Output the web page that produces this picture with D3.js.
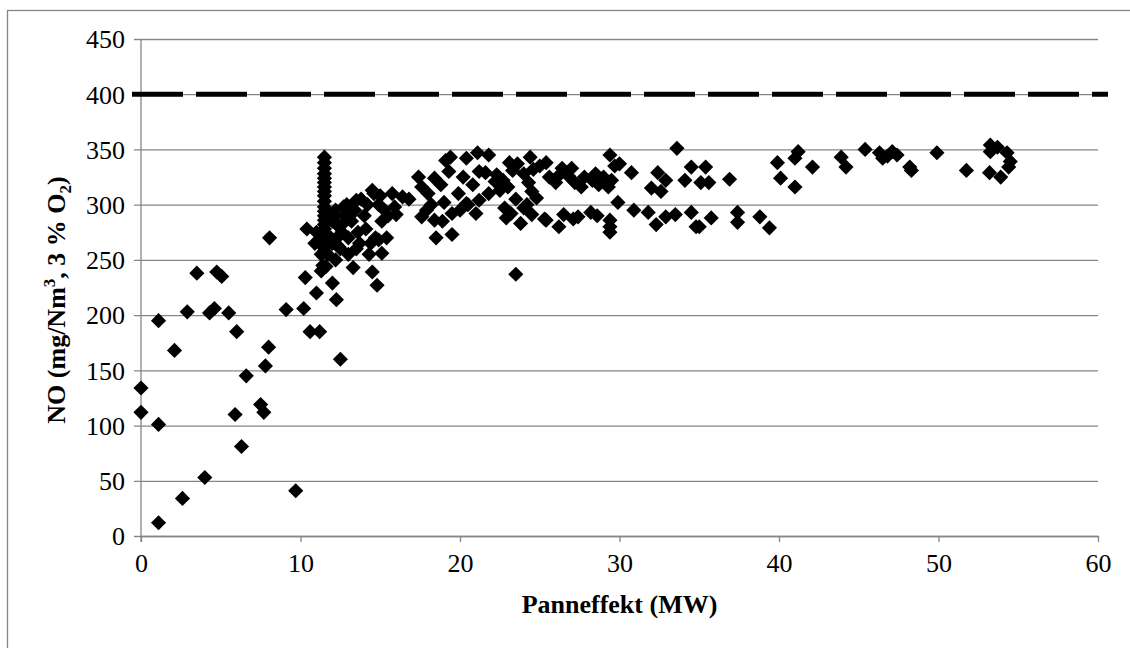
<!DOCTYPE html>
<html>
<head>
<meta charset="utf-8">
<script src="https://cdn.jsdelivr.net/npm/d3@7"></script>
<style>
  body { margin: 0; background: #fff; }
</style>
</head>
<body>
<div class="canvas"></div>
<script>
// Panneffekt (MW) vs NO (mg/Nm3, 3 % O2)

const panneffekt = [
    0, 0, 1.1, 1.1, 1.1, 2.1, 2.6, 2.9, 3.5, 4.0, 4.3, 4.6, 4.75, 5.06, 5.5, 5.9, 6.0, 6.3, 6.6, 7.5,
    7.7, 7.8, 8.0, 8.06, 9.1, 9.7, 10.2, 10.3, 10.4, 10.6, 11.2, 11.0, 11.4, 12.0, 12.25, 12.5, 13.3, 14.5, 14.8, 15.1, 15.4,
    11.5, 11.5, 11.5, 11.5, 11.5, 11.5, 11.5, 11.5, 11.5, 11.5, 11.5, 11.5, 11.5, 11.5, 11.5, 11.5, 11.5, 11.5, 11.5, 11.5, 11.5,
    11.8, 12.0, 12.2, 12.4, 12.6, 12.8, 13.0, 12.5, 12.0, 11.7, 11.2, 11.0, 11.3, 12.9, 13.2, 13.4, 13.6, 13.8, 14.0, 14.2,
    14.4, 14.7, 14.3, 13.5, 13.0, 12.2, 11.6, 12.6, 12.3, 14.6, 14.9, 15.2, 15.5, 15.9, 15.1, 14.1, 13.7, 13.1, 12.7, 12.2,
    13.5, 14.5, 15.0, 15.75, 16.0, 16.4, 16.8, 14.9, 11.9, 12.4, 11.3, 10.9,
    17.4, 17.6, 18.0, 18.4, 18.8, 19.1, 19.3, 19.4, 18.2, 17.6, 18.4, 18.5, 19.0, 19.5, 19.5, 19.9, 17.9, 18.9, 20.4, 20.4, 21.0, 21.2,
    21.1, 21.8, 21.6, 22.2, 22.3, 22.7, 23.0, 23.1, 23.3, 23.6, 24.0, 24.3, 24.4, 24.5, 24.8, 24.6, 22.5, 23.5, 24.2, 21.2,
    20.2, 20.8, 21.8, 22.8, 22.9, 23.2, 23.8, 24.0, 20.5, 20.0, 25.0, 24.5, 25.3, 23.5,
    25.4, 25.4, 26.2, 26.4, 25.6, 26.0, 26.3, 26.8, 27.2, 27.6, 27.8, 28.3, 28.7, 29.0, 29.5, 29.4, 29.7, 29.3, 27.0, 28.5,
    30.0, 27.4, 28.2, 28.6, 26.5, 27.1, 29.4, 29.4, 29.4, 29.9,
    30.75, 30.9, 33.6, 32.4, 32.9, 34.5, 35.4, 34.1, 35.1, 32.0, 32.6, 31.8, 32.3, 32.9, 33.5, 34.5, 34.8, 35.75, 35.6, 36.9, 35.0,
    37.4, 37.4, 38.8, 39.4, 39.9, 41.2, 41.0, 42.1, 40.1, 41.0, 43.9, 44.2, 45.4, 46.3, 46.5, 47.1, 47.4, 48.2, 49.9, 51.75,
    53.25, 53.25, 53.7, 53.2, 53.9, 54.3, 54.5, 54.4, 48.3, 46.8
];

const noVerdi = [
    134, 112, 101, 195, 12, 168, 34, 203, 238, 53, 202, 206, 239, 235, 202, 110, 185, 81, 145, 119,
    112, 154, 171, 270, 205, 41, 206, 234, 278, 185, 185, 220, 245, 229, 214, 160, 243, 239, 227, 256, 270,
    343, 338, 333, 328, 324, 320, 316, 312, 308, 303, 298, 294, 290, 286, 282, 278, 274, 270, 266, 262, 258,
    290, 285, 295, 280, 275, 290, 270, 260, 265, 255, 265, 275, 255, 300, 285, 295, 275, 305, 290, 300,
    265, 270, 255, 260, 255, 250, 244, 282, 270, 310, 300, 296, 290, 298, 285, 278, 265, 290, 298, 290,
    304, 313, 308, 310, 291, 307, 305, 268, 270, 262, 240, 265,
    325, 316, 310, 324, 318, 340, 330, 343, 300, 289, 286, 270, 302, 292, 273, 310, 295, 285, 342, 301, 292, 304,
    347, 345, 329, 321, 327, 322, 316, 338, 331, 337, 328, 320, 343, 312, 306, 332, 313, 305, 300, 330,
    325, 318, 310, 297, 288, 292, 283, 297, 300, 295, 335, 291, 287, 237,
    338, 286, 280, 333, 325, 320, 328, 326, 320, 316, 325, 322, 318, 325, 322, 345, 335, 316, 333, 328,
    337, 289, 293, 290, 291, 287, 275, 280, 286, 302,
    329, 295, 351, 329, 322, 334, 334, 322, 320, 315, 312, 293, 282, 289, 291, 293, 280, 288, 320, 323, 280,
    293, 284, 289, 279, 338, 348, 342, 334, 324, 316, 343, 334, 350, 347, 342, 348, 345, 334, 347, 331,
    354, 348, 352, 329, 325, 347, 339, 334, 331, 344
];

const xTicks = [0, 10, 20, 30, 40, 50, 60];
const yTicks = [0, 50, 100, 150, 200, 250, 300, 350, 400, 450];
const grenseverdi = 400;

const data = panneffekt.map((d, i) => ({ x: d, y: noVerdi[i] }));

// try every serif that might be around
const fontSerif = 'Liberation Serif, Times New Roman, Times, Tinos, Nimbus Roman, FreeSerif, Noto Serif, DejaVu Serif, Noto Serif CJK SC, serif';

const svg = d3.select('.canvas')
    .append('svg')
        .attr('width', 1130)
        .attr('height', 648)
        .attr('font-family', fontSerif);

// outer chart border
svg.append('rect')
    .attr('x', 7.5)
    .attr('y', 10.5)
    .attr('width', 1140)
    .attr('height', 660)
    .attr('fill', 'none')
    .attr('stroke', '#868686')
    .attr('stroke-width', 1.3);

const margin = {top: 39, left: 141};
const graphWidth = 1098 - margin.left;
const graphHeight = 536 - margin.top;

const graph = svg.append('g')
    .attr('transform', `translate(${margin.left}, ${margin.top})`);

const x = d3.scaleLinear()
    .domain([0, 60])
    .range([0, graphWidth]);

const y = d3.scaleLinear()
    .domain([0, 450])
    .range([graphHeight, 0]);

// gridlines + left ticks
const yAxis = d3.axisLeft(y)
    .tickValues(yTicks)
    .tickSize(-graphWidth)
    .tickSizeOuter(0)
    .tickPadding(16)
    .tickFormat(d3.format('d'));

const yAxisGroup = graph.append('g').call(yAxis)
    .attr('font-family', fontSerif)
    .attr('font-size', 26);
yAxisGroup.select('.domain').remove();
yAxisGroup.selectAll('.tick line')
    .attr('x1', -7)
    .attr('stroke', '#868686')
    .attr('stroke-width', 1.3);
yAxisGroup.selectAll('.tick text')
    .attr('dy', '0.34em');

const xAxis = d3.axisBottom(x)
    .tickValues(xTicks)
    .tickSize(6)
    .tickSizeOuter(0)
    .tickPadding(12)
    .tickFormat(d3.format('d'));

const xAxisGroup = graph.append('g')
    .attr('transform', `translate(0, ${graphHeight})`)
    .call(xAxis)
    .attr('font-family', fontSerif)
    .attr('font-size', 26);
xAxisGroup.select('.domain')
    .attr('stroke', '#868686')
    .attr('stroke-width', 1.3);
xAxisGroup.selectAll('.tick line')
    .attr('stroke', '#868686')
    .attr('stroke-width', 1.3);
xAxisGroup.selectAll('.tick text')
    .attr('dy', '0.71em');

// vertical axis line
graph.append('line')
    .attr('x1', x(0)).attr('x2', x(0))
    .attr('y1', 0).attr('y2', graphHeight + 6)
    .attr('stroke', '#868686')
    .attr('stroke-width', 1.3);

// limit line at 400
graph.append('line')
    .attr('x1', -9)
    .attr('x2', graphWidth + 10)
    .attr('y1', y(grenseverdi))
    .attr('y2', y(grenseverdi))
    .attr('stroke', '#000')
    .attr('stroke-width', 5)
    .attr('stroke-dasharray', '51,13');

// points
const diamond = d3.symbol(d3.symbolSquare, 115);
graph.selectAll('path.pt')
    .data(data)
    .enter()
    .append('path')
        .attr('class', 'pt')
        .attr('d', diamond)
        .attr('transform', d => `translate(${x(d.x)}, ${y(d.y)}) rotate(45)`)
        .attr('fill', '#000');

// axis titles
svg.append('text')
    .attr('x', margin.left + graphWidth / 2)
    .attr('y', 613)
    .attr('text-anchor', 'middle')
    .attr('font-size', 26)
    .attr('font-weight', 'bold')
    .text('Panneffekt (MW)');

const yTitle = svg.append('text')
    .attr('transform', 'translate(65, 300) rotate(-90)')
    .attr('text-anchor', 'middle')
    .attr('font-size', 26)
    .attr('font-weight', 'bold');
yTitle.append('tspan').text('NO (mg/Nm');
yTitle.append('tspan').attr('font-size', 17).attr('dy', -10).text('3');
yTitle.append('tspan').attr('dy', 10).text(', 3 % O');
yTitle.append('tspan').attr('font-size', 17).attr('dy', 6).text('2');
yTitle.append('tspan').attr('dy', -6).text(')');
</script>
</body>
</html>
